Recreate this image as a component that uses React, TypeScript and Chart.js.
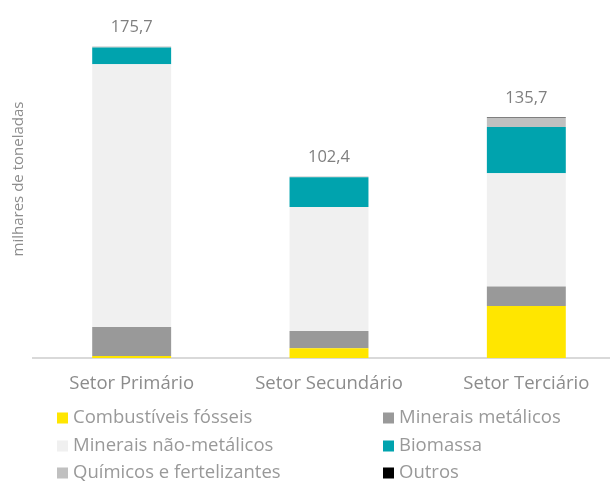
import React, { useEffect, useRef } from "react";
import { Chart, registerables } from "chart.js";

Chart.register(...registerables);

const categories = ["Setor Primário", "Setor Secundário", "Setor Terciário"];

const seriesNames = [
  "Combustíveis fósseis",
  "Minerais metálicos",
  "Minerais não-metálicos",
  "Biomassa",
  "Químicos e fertelizantes",
  "Outros",
];

const combustiveis = [1.1, 5.5, 29.3];
const mineraisMetalicos = [16.4, 9.8, 11.1];
const mineraisNaoMetalicos = [148.3, 69.9, 63.9];
const biomassa = [9.4, 16.8, 26.0];
const quimicos = [0.5, 0.4, 5.1];
const outros = [0, 0, 0.3];

const seriesColors = ["#FFE600", "#999999", "#F0F0F0", "#00A3AE", "#C0C0C0", "#000000"];

const FONT = "'Open Sans', 'DejaVu Sans', sans-serif";
const TEXT = "#8c8c8c";

const totalsPlugin = {
  id: "totals",
  afterDatasetsDraw(chart: any) {
    const { ctx } = chart;
    const yScale = chart.scales.y;
    const xScale = chart.scales.x;
    ctx.save();
    ctx.font = `16.5px ${FONT}`;
    ctx.fillStyle = "#7f7f7f";
    ctx.textAlign = "center";
    ctx.textBaseline = "alphabetic";
    categories.forEach((_, i) => {
      let sum = 0;
      chart.data.datasets.forEach((ds: any) => (sum += ds.data[i]));
      sum = Math.round(sum * 10) / 10;
      const x = xScale.getPixelForValue(i);
      const y = yScale.getPixelForValue(sum);
      ctx.fillText(sum.toFixed(1).replace(".", ","), x, y - 15);
    });
    ctx.restore();
  },
};

const legendPlugin = {
  id: "gridLegend",
  afterDraw(chart: any) {
    const { ctx } = chart;
    const colX = [57, 383];
    const rowY = [418, 446, 473];
    ctx.save();
    ctx.font = `18.5px ${FONT}`;
    ctx.textBaseline = "middle";
    ctx.textAlign = "left";
    chart.data.datasets.forEach((ds: any, i: number) => {
      const x = colX[i % 2];
      const y = rowY[Math.floor(i / 2)];
      ctx.fillStyle = ds.backgroundColor;
      ctx.fillRect(x, y - 5.5, 11, 11);
      ctx.fillStyle = "#999999";
      ctx.fillText(ds.label, x + 16, y);
    });
    ctx.restore();
  },
};

export default function App() {
  const ref = useRef<HTMLCanvasElement>(null);

  useEffect(() => {
    if (!ref.current) return;
    const values = [combustiveis, mineraisMetalicos, mineraisNaoMetalicos, biomassa, quimicos, outros];
    const chart = new Chart(ref.current, {
      type: "bar",
      data: {
        labels: categories,
        datasets: values.map((data, i) => ({
          label: seriesNames[i],
          data,
          backgroundColor: seriesColors[i],
          borderWidth: 0,
          barPercentage: 0.4,
          categoryPercentage: 1,
        })),
      },
      options: {
        responsive: false,
        animation: false,
        layout: { padding: 0 },
        plugins: {
          legend: { display: false },
          tooltip: { enabled: false },
          title: { display: false },
        },
        scales: {
          x: {
            stacked: true,
            grid: { display: false, drawTicks: false },
            border: { display: true, color: "#D9D9D9", width: 2 },
            ticks: { color: TEXT, font: { family: FONT, size: 18.5 }, padding: 15 },
            afterFit: (s: any) => {
              s.height = 123;
            },
          },
          y: {
            stacked: true,
            min: 0,
            max: 202,
            ticks: { display: false },
            grid: { display: false },
            border: { display: false },
            title: {
              display: true,
              text: "milhares de toneladas",
              color: TEXT,
              font: { family: FONT, size: 15 },
              padding: { top: 10, bottom: 0 },
            },
            afterFit: (s: any) => {
              s.width = 33;
            },
          },
        },
      },
      plugins: [totalsPlugin, legendPlugin],
    });
    return () => chart.destroy();
  }, []);

  return (
    <div
      style={{
        position: "absolute",
        left: 0,
        top: 0,
        width: 610,
        height: 481,
        overflow: "hidden",
        background: "#ffffff",
      }}
    >
      <canvas ref={ref} width={625} height={481} style={{ display: "block" }} />
    </div>
  );
}
